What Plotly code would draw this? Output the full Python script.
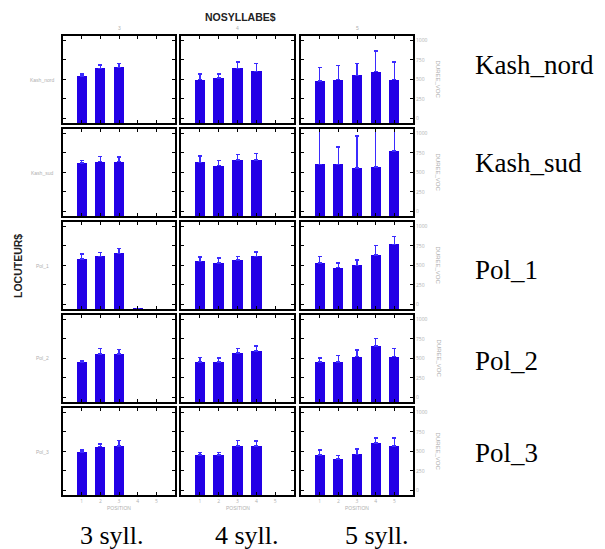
import plotly.graph_objects as go

W, H = 605, 549

speakers = ["Kash_nord", "Kash_sud", "Pol_1", "Pol_2", "Pol_3"]
syll_labels = ["3 syll.", "4 syll.", "5 syll."]
syll_codes = ["3", "4", "5"]
y_ticks = [0, 250, 500, 750, 1000]
x_ticks = [1, 2, 3, 4, 5]

# mean DUREE_VOC per position, and upper error extent
kash_nord_3 = [545, 640, 653]
kash_nord_3_err = [25, 46, 49]
kash_nord_4 = [496, 517, 640, 603]
kash_nord_4_err = [74, 53, 79, 99]
kash_nord_5 = [479, 496, 550, 599, 496]
kash_nord_5_err = [174, 178, 152, 261, 227]

kash_sud_3 = [620, 636, 636]
kash_sud_3_err = [33, 66, 58]
kash_sud_4 = [628, 587, 657, 657]
kash_sud_4_err = [83, 66, 70, 87]
kash_sud_5 = [603, 603, 554, 570, 773]
kash_sud_5_err = [547, 223, 413, 580, 377]

pol1_3 = [584, 616, 653, -52]
pol1_3_err = [61, 49, 61, 0]
pol1_4 = [551, 531, 567, 616]
pol1_4_err = [57, 61, 49, 57]
pol1_5 = [531, 469, 498, 633, 767]
pol1_5_err = [81, 62, 69, 122, 102]

pol2_3 = [453, 555, 555]
pol2_3_err = [17, 68, 60]
pol2_4 = [453, 453, 571, 591]
pol2_4_err = [57, 49, 52, 65]
pol2_5 = [453, 453, 522, 656, 522]
pol2_5_err = [53, 81, 85, 101, 101]

pol3_3 = [490, 559, 571]
pol3_3_err = [28, 33, 70]
pol3_4 = [453, 453, 571, 571]
pol3_4_err = [33, 33, 70, 58]
pol3_5 = [453, 404, 461, 608, 571]
pol3_5_err = [65, 41, 66, 65, 102]

data = [
    [(kash_nord_3, kash_nord_3_err), (kash_nord_4, kash_nord_4_err), (kash_nord_5, kash_nord_5_err)],
    [(kash_sud_3, kash_sud_3_err), (kash_sud_4, kash_sud_4_err), (kash_sud_5, kash_sud_5_err)],
    [(pol1_3, pol1_3_err), (pol1_4, pol1_4_err), (pol1_5, pol1_5_err)],
    [(pol2_3, pol2_3_err), (pol2_4, pol2_4_err), (pol2_5, pol2_5_err)],
    [(pol3_3, pol3_3_err), (pol3_4, pol3_4_err), (pol3_5, pol3_5_err)],
]

Y_MIN, Y_MAX = -60, 1055
BAR = "#2200E6"
ERR = "#3B2BFF"
GRAY = "#b0b0b0"
LW = 2

# frame line centre positions (px)
col_px = [(62, 176), (180, 295), (300, 414)]
row_px = [(35, 124), (128, 217), (221, 310), (314, 403), (407, 496)]

fig = go.Figure()
layout = {}
n = 0
for r in range(5):
    for c in range(3):
        n += 1
        xa = "x" if n == 1 else f"x{n}"
        ya = "y" if n == 1 else f"y{n}"
        means, errs = data[r][c]
        xs = list(range(1, len(means) + 1))
        fig.add_trace(go.Bar(
            x=xs, y=[m - Y_MIN for m in means], base=Y_MIN,
            width=0.55, marker=dict(color=BAR, line=dict(width=0)),
            error_y=dict(type="data", symmetric=False, array=errs,
                         arrayminus=[0] * len(errs), color=ERR,
                         thickness=1.5, width=2),
            xaxis=xa, yaxis=ya, showlegend=False, hoverinfo="skip",
        ))
        x0, x1 = col_px[c]
        y0, y1 = row_px[r]
        x0 += LW / 2
        x1 -= LW / 2
        y0 += LW / 2
        y1 -= LW / 2
        key_x = "xaxis" if n == 1 else f"xaxis{n}"
        key_y = "yaxis" if n == 1 else f"yaxis{n}"
        layout[key_x] = dict(
            domain=[x0 / W, x1 / W], anchor=ya, range=[0, 6],
            tickvals=x_ticks, ticktext=[str(v) for v in x_ticks],
            showticklabels=(r == 4), tickfont=dict(size=5, color=GRAY),
            ticks="inside", ticklen=3, tickwidth=1, tickcolor="black",
            showline=True, linecolor="black", linewidth=LW, mirror="allticks",
            showgrid=False, zeroline=False, fixedrange=True,
        )
        layout[key_y] = dict(
            domain=[1 - y1 / H, 1 - y0 / H], anchor=xa, range=[Y_MIN, Y_MAX],
            tickvals=y_ticks, ticktext=[str(v) for v in y_ticks],
            side="right" if c == 2 else "left",
            showticklabels=(c == 2), tickfont=dict(size=5, color=GRAY),
            ticks="inside", ticklen=3, tickwidth=1, tickcolor="black",
            showline=True, linecolor="black", linewidth=LW, mirror="allticks",
            showgrid=False, zeroline=False, fixedrange=True,
        )


def label(text, x, y, size, family="Liberation Sans", color=GRAY, angle=0, xanchor="center"):
    return dict(text=text, x=x / W, y=1 - y / H, xref="paper", yref="paper",
                xanchor=xanchor, yanchor="middle", showarrow=False, textangle=angle,
                font=dict(family=family, size=size, color=color))


ann = []
ann.append(label("<b>NOSYLLABE$</b>", 240, 17, 10.5, color="#222"))
ann.append(label("<b>LOCUTEUR$</b>", 18, 266, 10.5, color="#222", angle=-90))
for c in range(3):
    cx = (col_px[c][0] + col_px[c][1]) / 2
    ann.append(label(syll_codes[c], cx, 28, 5))
    ann.append(label("POSITION", cx, 508, 5))
    ann.append(label(syll_labels[c], [112, 247, 377][c], 535, 26,
                     family="Liberation Serif", color="black"))
for r in range(5):
    cy = (row_px[r][0] + row_px[r][1]) / 2
    ann.append(label(speakers[r], 42, cy, 5))
    ann.append(label("DUREE_VOC", 438, cy, 6, angle=90))
    ann.append(label(speakers[r], 473, [65, 163, 270, 361, 453][r], 27,
                     family="Liberation Serif", color="black", xanchor="left"))

fig.update_layout(
    width=W, height=H, margin=dict(l=0, r=0, t=0, b=0),
    paper_bgcolor="white", plot_bgcolor="white",
    annotations=ann, bargap=0, **layout,
)
fig.write_html("out.html", config={"displayModeBar": False},
               post_script="document.body.style.margin='0';")
